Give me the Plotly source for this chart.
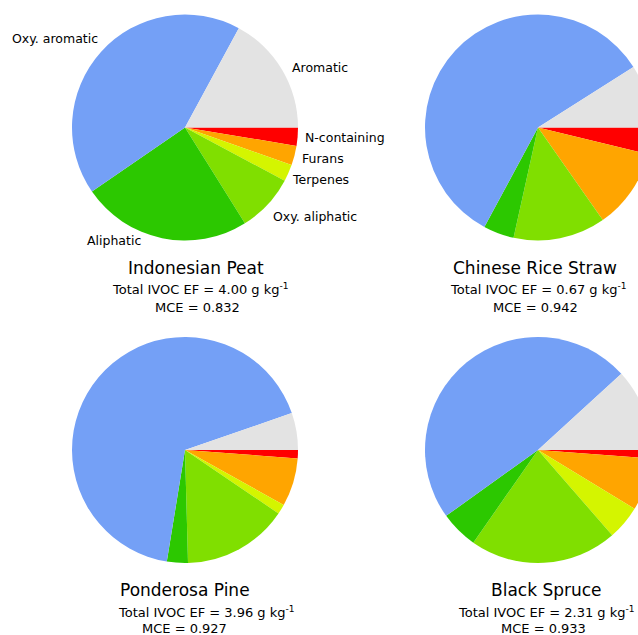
import plotly.graph_objects as go

categories = ["N-containing", "Furans", "Terpenes", "Oxy. aliphatic",
              "Aliphatic", "Oxy. aromatic", "Aromatic"]
colors = ["#FF0000", "#FFA500", "#D4F500", "#80DF00", "#2CC800", "#74A0F6", "#E3E3E3"]

fuels = ["Indonesian Peat", "Chinese Rice Straw", "Ponderosa Pine", "Black Spruce"]
total_ef = ["4.00", "0.67", "3.96", "2.31"]
mce = ["0.832", "0.942", "0.927", "0.933"]

peat = [2.6, 2.8, 2.4, 8.3, 24.3, 42.5, 17.1]
rice_straw = [3.8, 11.5, 0.0, 13.2, 4.4, 58.2, 9.0]
ponderosa = [1.2, 6.9, 1.4, 15.1, 3.0, 67.2, 5.3]
black_spruce = [1.2, 7.5, 4.9, 21.1, 5.4, 48.1, 11.8]
series = [peat, rice_straw, ponderosa, black_spruce]

# positions below are in window pixels (page margin removed by post_script)
W, H = 660, 635
R = 113
centers = [(185, 127.5), (538, 127.5), (185, 450), (538, 450)]
# text positions (window pixels): title, subtitle, mce
text_pos = [
    [(196, 268), (200, 289), (197, 307)],
    [(535, 268), (538, 289), (535, 307)],
    [(185, 590), (206, 612), (184, 628)],
    [(546, 590), (546, 612), (543, 628)],
]
label_pos = [(55, 38), (345, 137), (323, 158), (320, 180), (315, 216), (114, 240), (320, 67)]
label_order = ["Oxy. aromatic", "N-containing", "Furans", "Terpenes", "Oxy. aliphatic",
               "Aliphatic", "Aromatic"]

FONT = "DejaVu Sans"


def px2x(px):
    return px / W


def py2y(py):
    return 1 - py / H


fig = go.Figure()
for vals, (cx, cy) in zip(series, centers):
    fig.add_trace(go.Pie(
        labels=categories, values=vals, sort=False, direction="clockwise",
        rotation=90, marker=dict(colors=colors, line=dict(width=0)),
        textinfo="none", hoverinfo="label+percent", showlegend=False,
        domain=dict(x=[px2x(cx - R), px2x(cx + R)],
                    y=[py2y(cy + R), py2y(cy - R)]),
    ))

ann = []
for name, ef, m, pos in zip(fuels, total_ef, mce, text_pos):
    texts = [name, f"Total IVOC EF = {ef} g kg<sup>-1</sup>", f"MCE = {m}"]
    sizes = [17, 13, 13]
    for t, s, (px, py) in zip(texts, sizes, pos):
        ann.append(dict(text=t, x=px2x(px), y=py2y(py), xref="paper", yref="paper",
                        xanchor="center", yanchor="middle", showarrow=False,
                        font=dict(size=s, color="black", family=FONT)))
for lab, (px, py) in zip(label_order, label_pos):
    ann.append(dict(text=lab, x=px2x(px), y=py2y(py), xref="paper", yref="paper",
                    xanchor="center", yanchor="middle", showarrow=False,
                    font=dict(size=12.5, color="black", family=FONT)))

fig.update_layout(width=W, height=H, margin=dict(l=0, r=0, t=0, b=0),
                  paper_bgcolor="white", plot_bgcolor="white",
                  annotations=ann, font=dict(family=FONT))
fig.write_html("out.html", config={"displayModeBar": False},
               post_script="document.body.style.margin='0';"
                           "document.body.style.overflow='hidden';")
